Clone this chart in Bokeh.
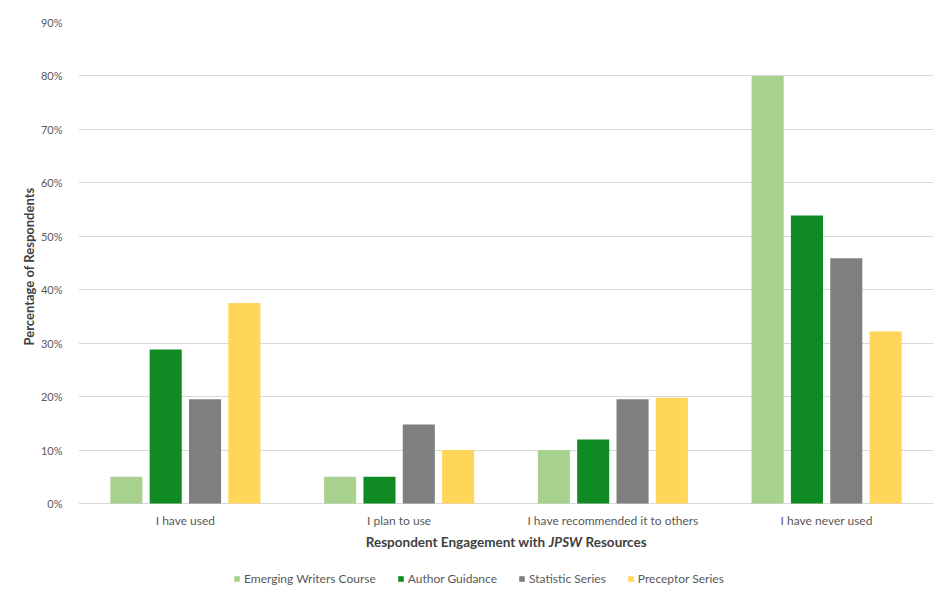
from bokeh.plotting import figure
from bokeh.models import (ColumnDataSource, FactorRange, Legend, LegendItem, Label, Title,
                          NumeralTickFormatter, FixedTicker, Range1d)
from bokeh.transform import dodge
from bokeh.embed import file_html
from bokeh.resources import INLINE

categories = ["I have used", "I plan to use", "I have recommended it to others", "I have never used"]
series = ["Emerging Writers Course", "Author Guidance", "Statistic Series", "Preceptor Series"]
emerging = [0.05, 0.05, 0.10, 0.80]
author = [0.288, 0.05, 0.12, 0.539]
statistic = [0.195, 0.148, 0.195, 0.459]
preceptor = [0.375, 0.10, 0.198, 0.322]
y_ticks = [0.0, 0.1, 0.2, 0.3, 0.4, 0.5, 0.6, 0.7, 0.8, 0.9]
colors = ["#a9d18e", "#108a22", "#7f7f7f", "#ffd55a"]

FONT = "Lato"
W, H = 941, 592
L, R, T = 78, 8, 22
# frame extends to the canvas bottom; the x axis sits at y = 0 inside it
Y_MIN = -0.1665

source = ColumnDataSource(dict(cat=categories, emerging=emerging, author=author,
                               statistic=statistic, preceptor=preceptor))

p = figure(width=W, height=H, output_backend="svg", toolbar_location=None,
           x_range=FactorRange(factors=categories, range_padding=0),
           y_range=Range1d(Y_MIN, 0.9),
           min_border_left=L, min_border_right=R, min_border_top=T, min_border_bottom=0)
p.outline_line_color = None
p.background_fill_color = "white"
p.border_fill_color = "white"

keys = ["emerging", "author", "statistic", "preceptor"]
offsets = [-0.276, -0.092, 0.092, 0.276]
renderers = []
for k, off, c in zip(keys, offsets, colors):
    r = p.vbar(x=dodge("cat", off, range=p.x_range), top=k, width=0.15, source=source,
               fill_color=c, line_color=None)
    renderers.append(r)

p.yaxis.ticker = FixedTicker(ticks=y_ticks)
p.ygrid.ticker = FixedTicker(ticks=y_ticks)
p.yaxis.formatter = NumeralTickFormatter(format="0%")
p.xaxis.fixed_location = 0
for ax in (p.xaxis[0], p.yaxis[0]):
    ax.axis_line_color = None
    ax.major_tick_line_color = None
    ax.minor_tick_line_color = None
    ax.major_label_text_font = FONT
    ax.major_label_text_color = "#595959"
p.xaxis.major_label_text_font_size = "12px"
p.yaxis.major_label_text_font_size = "11px"
p.yaxis.major_label_standoff = 10
p.xaxis.major_label_standoff = 3
p.xgrid.grid_line_color = None
p.ygrid.grid_line_color = "#d9d9d9"
p.ygrid.grid_line_width = 1

ytitle = Title(text="Percentage of Respondents", align="left", offset=247, standoff=2,
               text_font=FONT, text_font_style="bold", text_font_size="13px",
               text_color="#404040")
p.add_layout(ytitle, "left")

# x axis title with italic JPSW
common = dict(x_units="screen", y_units="data", text_font=FONT, text_font_size="13.5px",
              text_color="#404040", text_baseline="middle")
ty = -0.0711
p.add_layout(Label(x=467, y=ty, text="Respondent Engagement with", text_align="right",
                   text_font_style="bold", **common))
p.add_layout(Label(x=487, y=ty, text="JPSW", text_align="center",
                   text_font_style="bold italic", **common))
p.add_layout(Label(x=507, y=ty, text="Resources", text_align="left",
                   text_font_style="bold", **common))

legend = Legend(items=[LegendItem(label=s, renderers=[r]) for s, r in zip(series, renderers)],
                orientation="horizontal", location=(155, 6),
                glyph_width=7, glyph_height=7, label_height=12, label_standoff=4,
                spacing=21, padding=0, margin=0,
                label_text_font=FONT, label_text_font_size="12px", label_text_color="#595959",
                border_line_color=None, background_fill_alpha=0)
p.add_layout(legend, "center")

open("out.html", "w").write(file_html(p, INLINE))
